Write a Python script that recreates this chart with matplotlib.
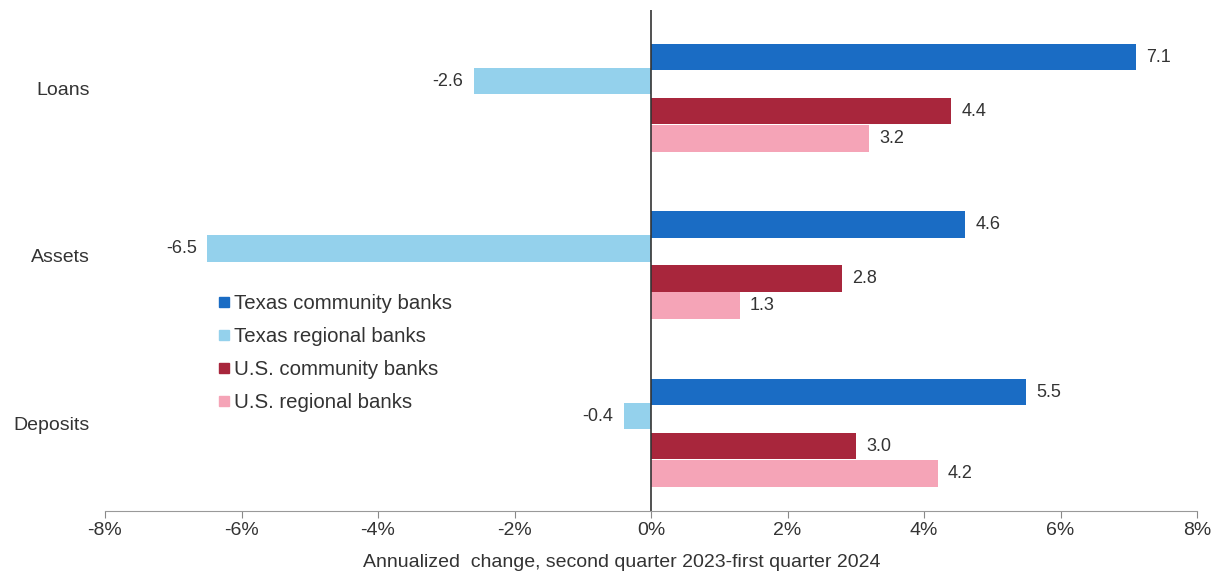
import matplotlib
matplotlib.use("Agg")
import matplotlib.pyplot as plt
from matplotlib.lines import Line2D
import numpy as np

plt.rcParams['font.family'] = ['Liberation Sans', 'DejaVu Sans']

categories = ["Loans", "Assets", "Deposits"]
series_names = ["Texas community banks", "Texas regional banks",
                "U.S. community banks", "U.S. regional banks"]
tx_community = [7.1, 4.6, 5.5]
tx_regional = [-2.6, -6.5, -0.4]
us_community = [4.4, 2.8, 3.0]
us_regional = [3.2, 1.3, 4.2]
xticks = [-8, -6, -4, -2, 0, 2, 4, 6, 8]
xlabel = "Annualized  change, second quarter 2023-first quarter 2024"

colors = ["#1a6cc4", "#94d1ec", "#a8263c", "#f5a4b7"]
offsets = [-0.185, -0.042, 0.137, 0.299]
height = 0.16

fig = plt.figure(figsize=(12.15, 5.76), dpi=100)
ax = fig.add_axes([105/1215, 65/576, (1197-105)/1215, (511-10)/576])

ypos = np.arange(len(categories))
all_series = [tx_community, tx_regional, us_community, us_regional]
for vals, col, off in zip(all_series, colors, offsets):
    bars = ax.barh(ypos + off, vals, height=height, color=col, edgecolor='none')
    for b, v in zip(bars, vals):
        yc = b.get_y() + b.get_height() / 2
        if v >= 0:
            ax.text(v + 0.15, yc, f"{v:.1f}", va='center', ha='left', fontsize=13, color='#333333')
        else:
            ax.text(v - 0.15, yc, f"{v:.1f}", va='center', ha='right', fontsize=13, color='#333333')

ax.set_xlim(-8, 8)
ax.set_ylim(2.525, -0.466)
ax.set_xticks(xticks)
ax.set_xticklabels([f"{t}%" for t in xticks], fontsize=14, color='#333333')
ax.set_yticks(ypos)
ax.set_yticklabels(categories, fontsize=14, color='#333333')
ax.tick_params(axis='y', length=0, pad=11)
ax.tick_params(axis='x', length=5, color='#888888', direction='out', pad=3)
for s in ['top', 'right', 'left']:
    ax.spines[s].set_visible(False)
ax.spines['bottom'].set_color('#999999')
ax.axvline(0, color='#333333', lw=1.2)
ax.set_xlabel(xlabel, fontsize=14, color='#333333')
ax.xaxis.set_label_coords((622 - 105) / 1092, -0.085)

handles = [Line2D([], [], marker='s', ls='none', markersize=7, color=c) for c in colors]
leg = fig.legend(handles, series_names, loc='upper left', bbox_to_anchor=(218/1215, 1 - 294/576),
                 frameon=False, fontsize=14.7, handlelength=0.6, handletextpad=0.2,
                 labelspacing=0.68, borderpad=0, borderaxespad=0)
for t in leg.get_texts():
    t.set_color('#333333')

fig.savefig("out.png", dpi=100)
